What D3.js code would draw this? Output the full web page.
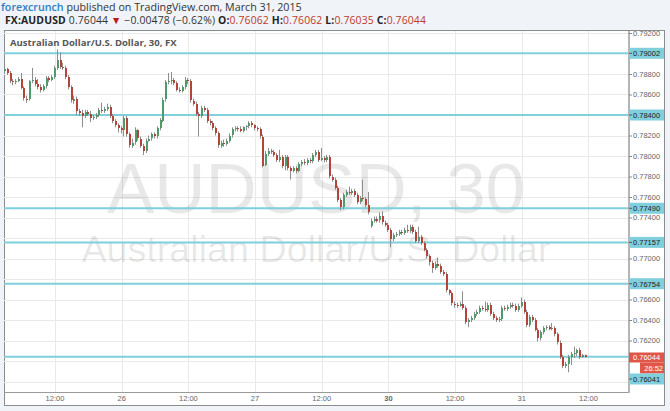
<!DOCTYPE html>
<html>
<head>
<meta charset="utf-8">
<script src="https://cdn.jsdelivr.net/npm/d3@7"></script>
<style>
  body { margin: 0; background: #f0f3f7; }
  svg { display: block; }
</style>
</head>
<body>
<svg id="chart" width="670" height="411"></svg>
<script>
// AUD/USD, 30 minute candles. Prices in pips (x 0.0001), rows are [open, high, low, close]
var bars25 = [
  [7883,7888,7881,7885],[7885,7886,7879,7881],[7881,7883,7871,7873],[7873,7875,7869,7872],
  [7872,7875,7870,7873],[7873,7877,7872,7875],[7875,7881,7865,7866],[7866,7868,7854,7856],
  [7856,7859,7852,7855],[7855,7874,7854,7873],[7873,7886,7871,7874],[7874,7877,7868,7870],
  [7870,7875,7865,7867],[7867,7870,7862,7864],[7864,7870,7863,7868],[7868,7878,7866,7876],
  [7876,7878,7872,7874],[7874,7879,7873,7877],[7877,7888,7875,7886],[7886,7904,7884,7894],
  [7894,7901,7885,7887],[7887,7891,7884,7886],[7886,7888,7875,7877],[7877,7879,7865,7867],
  [7867,7869,7852,7854],[7854,7859,7851,7856],[7856,7858,7840,7844],[7844,7846,7839,7842],
  [7842,7845,7828,7839],[7839,7845,7837,7843],[7843,7845,7839,7841],[7841,7844,7833,7837],
  [7837,7840,7835,7838],[7838,7842,7836,7840],[7840,7847,7838,7845],[7845,7852,7842,7844],
  [7844,7848,7842,7846],[7846,7851,7844,7848],[7848,7850,7837,7839],[7839,7841,7832,7834],
  [7834,7836,7828,7830],[7830,7832,7823,7827]
];
var bars26 = [
  [7827,7829,7822,7825],[7825,7839,7819,7837],[7837,7839,7819,7821],[7821,7823,7808,7810],
  [7810,7817,7808,7813],[7813,7828,7811,7825],[7825,7826,7815,7817],[7817,7819,7808,7810],
  [7810,7812,7801,7805],[7805,7817,7803,7815],[7815,7820,7814,7817],[7817,7823,7815,7821],
  [7821,7823,7817,7819],[7819,7829,7817,7827],[7827,7837,7825,7835],[7835,7857,7833,7855],
  [7855,7874,7853,7872],[7872,7881,7870,7873],[7873,7882,7870,7874],[7874,7876,7869,7871],
  [7871,7873,7863,7864],[7864,7867,7862,7863],[7863,7869,7862,7867],[7867,7877,7865,7874],
  [7874,7876,7870,7873],[7873,7875,7852,7854],[7854,7856,7849,7851],[7851,7853,7839,7841],
  [7841,7843,7819,7839],[7839,7849,7837,7847],[7847,7849,7843,7845],[7845,7847,7832,7834],
  [7834,7836,7830,7832],[7832,7834,7825,7827],[7827,7829,7820,7822],[7822,7824,7808,7810],
  [7810,7815,7808,7813],[7813,7816,7809,7812],[7812,7817,7810,7815],[7815,7822,7813,7820],
  [7820,7828,7818,7826],[7826,7829,7824,7827],[7827,7829,7824,7826],[7826,7829,7823,7824],
  [7824,7829,7823,7828],[7828,7830,7825,7829],[7829,7834,7827,7832],[7832,7834,7828,7830]
];
var bars27 = [
  [7830,7831,7825,7827],[7827,7829,7824,7826],[7826,7828,7817,7819],[7819,7821,7789,7791],
  [7791,7805,7790,7802],[7802,7808,7800,7805],[7805,7807,7802,7804],[7804,7806,7799,7801],
  [7801,7803,7794,7796],[7796,7806,7794,7799],[7799,7801,7788,7790],[7790,7801,7786,7799],
  [7799,7801,7786,7788],[7788,7790,7777,7785],[7785,7790,7784,7788],[7788,7790,7783,7785],
  [7785,7794,7784,7792],[7792,7796,7790,7794],[7794,7797,7791,7793],[7793,7798,7791,7796],
  [7796,7798,7793,7795],[7795,7803,7793,7801],[7801,7806,7799,7804],[7804,7806,7794,7796],
  [7796,7808,7795,7798],[7798,7800,7794,7796],[7796,7801,7794,7799],[7799,7801,7778,7780],
  [7780,7782,7775,7777],[7777,7779,7767,7769],[7769,7771,7755,7757],[7757,7759,7747,7750],
  [7750,7764,7748,7762],[7762,7767,7760,7765],[7765,7770,7762,7764],[7764,7768,7762,7766],
  [7766,7768,7760,7762],[7762,7764,7753,7755],[7755,7761,7753,7759],[7759,7777,7756,7758],
  [7758,7760,7750,7752],[7752,7765,7743,7745]
];
var bars29 = [
  [7732,7739,7730,7737],[7737,7741,7735,7739],[7739,7741,7735,7737],[7737,7745,7735,7741],
  [7741,7746,7733,7735],[7735,7737,7731,7733]
];
var bars30 = [
  [7733,7735,7726,7728],[7728,7730,7711,7719],[7719,7725,7717,7723],[7723,7726,7721,7724],
  [7724,7728,7722,7726],[7726,7728,7723,7725],[7725,7730,7723,7728],[7728,7733,7725,7727],
  [7727,7733,7725,7731],[7731,7733,7724,7726],[7726,7728,7715,7717],[7717,7731,7715,7721],
  [7721,7723,7713,7715],[7715,7717,7707,7708],[7708,7710,7700,7702],[7702,7704,7693,7696],
  [7696,7698,7686,7691],[7691,7697,7689,7695],[7695,7701,7691,7693],[7693,7695,7685,7687],
  [7687,7689,7683,7685],[7685,7687,7667,7669],[7669,7670,7664,7666],[7666,7668,7654,7656],
  [7656,7658,7652,7655],[7655,7657,7652,7654],[7654,7658,7653,7656],[7656,7668,7650,7652],
  [7652,7654,7636,7638],[7638,7642,7633,7640],[7640,7644,7638,7642],[7642,7648,7640,7646],
  [7646,7650,7644,7648],[7648,7654,7646,7652],[7652,7654,7649,7651],[7651,7658,7648,7650],
  [7650,7657,7648,7655],[7655,7657,7644,7646],[7646,7648,7640,7642],[7642,7644,7638,7640],
  [7640,7643,7638,7641],[7641,7654,7639,7652],[7652,7654,7649,7651],[7651,7655,7649,7653],
  [7653,7657,7651,7655],[7655,7657,7652,7654],[7654,7656,7648,7650],[7650,7656,7648,7654]
];
var bars31 = [
  [7654,7662,7652,7658],[7658,7660,7646,7648],[7648,7650,7633,7635],[7635,7645,7633,7643],
  [7643,7645,7638,7640],[7640,7642,7629,7630],[7630,7632,7619,7622],[7622,7630,7620,7628],
  [7628,7634,7626,7632],[7632,7635,7630,7633],[7633,7635,7630,7631],[7631,7637,7630,7632],
  [7632,7634,7624,7626],[7626,7628,7616,7618],[7618,7620,7602,7604],[7604,7606,7593,7595],
  [7595,7599,7593,7597],[7597,7606,7589,7604],[7604,7609,7596,7607],[7607,7614,7603,7608],
  [7608,7612,7605,7611],[7611,7613,7602,7604],[7604,7607,7603,7606],[7606.2,7606.2,7603.5,7604.4]
];
var dayBars = [bars25, bars26, bars27, bars29, bars30, bars31];
var dayStarts = ["2015-03-25T03:00:00Z", "2015-03-26T00:00:00Z", "2015-03-27T00:00:00Z",
                 "2015-03-29T21:00:00Z", "2015-03-30T00:00:00Z", "2015-03-31T00:00:00Z"];

var priceTicks = [0.792, 0.790, 0.788, 0.786, 0.784, 0.782, 0.780, 0.778, 0.776,
                  0.774, 0.772, 0.770, 0.768, 0.766, 0.764, 0.762, 0.760, 0.758];
var timeTicks = ["2015-03-25T12:00:00Z", "2015-03-26T00:00:00Z", "2015-03-26T12:00:00Z",
                 "2015-03-27T00:00:00Z", "2015-03-27T12:00:00Z", "2015-03-30T00:00:00Z",
                 "2015-03-30T12:00:00Z", "2015-03-31T00:00:00Z", "2015-03-31T12:00:00Z"];
var timeTickLabels = ["12:00", "26", "12:00", "27", "12:00", "30", "12:00", "31", "12:00"];
var levels = [0.79002, 0.78400, 0.77490, 0.77157, 0.76754, 0.76041];
var lastPrice = 0.76044;
var countdown = "26:52";

var HALF_HOUR = 1800000;
var candles = [];
dayBars.forEach(function (rows, d) {
    var t0 = new Date(dayStarts[d]).getTime();
    rows.forEach(function (r, k) {
        candles.push({i: candles.length, t: t0 + k * HALF_HOUR,
            o: r[0] / 1e4, h: r[1] / 1e4, l: r[2] / 1e4, c: r[3] / 1e4});
    });
});

// bars are evenly spaced, weekend gap is skipped like on the original
function timeToIndex(s) {
    var t = new Date(s).getTime();
    var hit = candles.find(function (c) { return c.t === t; });
    if (hit) return hit.i;
    var last = candles[candles.length - 1];
    return last.i + (t - last.t) / HALF_HOUR;
}

var L = 4, R = 628, T = 31, B = 392;
var x = d3.scaleLinear().domain([-0.36, 224.24]).range([L, R]);
var y = d3.scaleLinear().domain([0.756976, 0.792195]).range([B, T]);

var svg = d3.select("#chart");
var sans = "'Liberation Sans', Arial, sans-serif";
var ui = "'Open Sans', 'Liberation Sans', sans-serif";

svg.append("rect").attr("width", 670).attr("height", 411).attr("fill", "#f0f3f7");

// header
var h1 = svg.append("text").attr("x", 1).attr("y", 11)
    .style("font-family", ui).style("font-size", "10.7px");
h1.append("tspan").attr("fill", "#2e7fc3").style("font-weight", 600).text("forexcrunch");
h1.append("tspan").attr("fill", "#333").text(" published on TradingView.com, March 31, 2015");

var h2 = svg.append("text").attr("x", 5).attr("y", 24)
    .style("font-family", ui).style("font-size", "10.4px").style("letter-spacing", "0.15px")
    .attr("fill", "#333");
h2.append("tspan").style("font-weight", "bold").attr("fill", "#222").text("FX:AUDUSD");
h2.append("tspan").text(" " + d3.format(".5f")(lastPrice) + " ");
h2.append("tspan").attr("fill", "#c21818").text("\u25BC");
h2.append("tspan").text(" \u22120.00478 (\u22120.62%) ");
var ohlcLast = candles[candles.length - 1];
[["O:", ohlcLast.o], ["H:", ohlcLast.h], ["L:", ohlcLast.l], ["C:", ohlcLast.c]].forEach(function (p, k) {
    h2.append("tspan").style("font-weight", "bold").attr("fill", "#222").text((k ? " " : "") + p[0]);
    h2.append("tspan").attr("fill", "#c0392b").text(d3.format(".5f")(p[1]));
});

// frame
svg.append("rect").attr("x", 4.5).attr("y", 30.5).attr("width", 660).attr("height", 375)
    .attr("fill", "#fff").attr("stroke", "#8c8c8c");

svg.append("clipPath").attr("id", "plotClip")
    .append("rect").attr("x", L).attr("y", T).attr("width", R - L).attr("height", B - T);
svg.append("clipPath").attr("id", "axisClip")
    .append("rect").attr("x", R).attr("y", T).attr("width", 40).attr("height", 380);

var plot = svg.append("g").attr("clip-path", "url(#plotClip)");

// grid
plot.selectAll("line.hg").data(priceTicks).join("line").attr("class", "hg")
    .attr("x1", L).attr("x2", R)
    .attr("y1", function (d) { return Math.round(y(d)) + 0.5; })
    .attr("y2", function (d) { return Math.round(y(d)) + 0.5; })
    .attr("stroke", "#e9e9e9");
plot.selectAll("line.vg").data(timeTicks).join("line").attr("class", "vg")
    .attr("y1", T).attr("y2", B)
    .attr("x1", function (d) { return Math.round(x(timeToIndex(d))) + 0.5; })
    .attr("x2", function (d) { return Math.round(x(timeToIndex(d))) + 0.5; })
    .attr("stroke", "#e9e9e9");

// watermark
plot.append("text").attr("x", (L + R) / 2).attr("y", 213).attr("text-anchor", "middle")
    .style("font-family", sans).style("font-size", "71px").attr("fill", "rgba(0,0,0,0.09)")
    .text("AUDUSD, 30");
plot.append("text").attr("x", (L + R) / 2).attr("y", 262).attr("text-anchor", "middle")
    .style("font-family", sans).style("font-size", "37.7px").attr("fill", "rgba(0,0,0,0.09)")
    .text("Australian Dollar/U.S. Dollar");

// horizontal levels
plot.selectAll("line.lvl").data(levels).join("line").attr("class", "lvl")
    .attr("x1", L).attr("x2", R)
    .attr("y1", function (d) { return y(d); }).attr("y2", function (d) { return y(d); })
    .attr("stroke", "#7fcfdc").attr("stroke-width", 2);

// candles
var cx = function (d) { return Math.round(x(d.i)); };
plot.selectAll("line.wick").data(candles).join("line").attr("class", "wick")
    .attr("x1", function (d) { return cx(d) - 0.5; }).attr("x2", function (d) { return cx(d) - 0.5; })
    .attr("y1", function (d) { return y(d.h); }).attr("y2", function (d) { return y(d.l); })
    .attr("stroke", "#8d8d8d").attr("stroke-width", 1);
plot.selectAll("rect.body").data(candles).join("rect").attr("class", "body")
    .attr("x", function (d) { return cx(d) - 1; }).attr("width", 2)
    .attr("y", function (d) { return Math.round(y(Math.max(d.o, d.c))); })
    .attr("height", function (d) { return Math.max(1, Math.round(Math.abs(y(d.o) - y(d.c)))); })
    .attr("fill", function (d) { return d.c >= d.o ? "#4f9a6c" : "#b4443a"; });

// chart title
svg.append("text").attr("x", 10).attr("y", 46)
    .style("font-family", ui).style("font-size", "9.5px").style("font-weight", "bold")
    .attr("fill", "#555").text("Australian Dollar/U.S. Dollar, 30, FX");

// axes lines
svg.append("line").attr("x1", L).attr("x2", R + 1).attr("y1", B + 0.5).attr("y2", B + 0.5)
    .attr("stroke", "#9a9a9a");
svg.append("line").attr("x1", R + 1).attr("x2", R + 1).attr("y1", T).attr("y2", B + 1)
    .attr("stroke", "#b4b4b4").attr("stroke-width", 2);

// time axis
var tx = svg.append("g").attr("transform", "translate(0," + (B + 1) + ")");
tx.selectAll("text").data(timeTicks).join("text")
    .attr("x", function (d) { return x(timeToIndex(d)); }).attr("y", 8)
    .attr("text-anchor", "middle")
    .style("font-family", sans).style("font-size", "7.5px")
    .style("font-weight", function (d, k) { return timeTickLabels[k] === "30" ? "bold" : "normal"; })
    .attr("fill", "#666")
    .text(function (d, k) { return timeTickLabels[k]; });

// price labels, the live price keeps its place and the others are pushed down
var labels = levels.map(function (v) {
    return {v: v, top: y(v) - 5.5, h: 11, cur: false};
});
labels.push({v: lastPrice, top: y(lastPrice) - 4, h: 21, cur: true});
labels.sort(function (a, b) { return y(a.v) - y(b.v) || (b.cur - a.cur); });
var prevBottom = -Infinity;
labels.forEach(function (lb) {
    if (lb.top < prevBottom) lb.top = prevBottom;
    prevBottom = lb.top + lb.h;
});

function hiddenByLabel(v) {
    var yy = y(v);
    return labels.some(function (lb) { return yy > lb.top - 2 && yy < lb.top + lb.h + 2; });
}

// price axis
var py = svg.append("g").attr("clip-path", "url(#axisClip)");
var pAxis = d3.axisRight(y).tickValues(priceTicks).tickSize(3).tickPadding(1)
    .tickFormat(d3.format(".5f"));
py.append("g").attr("transform", "translate(" + (R + 1) + ",0)").call(pAxis)
    .call(function (g) {
        g.select(".domain").remove();
        g.selectAll(".tick line").attr("stroke", "#888");
        g.selectAll(".tick text").style("font-family", sans).style("font-size", "7.5px").attr("fill", "#666");
        g.selectAll(".tick").filter(function (d) { return hiddenByLabel(d); }).remove();
    });

var lg = svg.append("g");
labels.forEach(function (lb) {
    if (lb.cur) {
        lg.append("rect").attr("x", R + 1).attr("y", lb.top).attr("width", 35).attr("height", 10)
            .attr("fill", "#e0574a");
        lg.append("text").attr("x", R + 5).attr("y", lb.top + 8)
            .style("font-family", sans).style("font-size", "7.5px").attr("fill", "#fff")
            .text(d3.format(".5f")(lb.v));
        lg.append("rect").attr("x", R + 12).attr("y", lb.top + 10).attr("width", 24).attr("height", 11)
            .attr("fill", "#e0574a");
        lg.append("text").attr("x", R + 35).attr("y", lb.top + 18.5).attr("text-anchor", "end")
            .style("font-family", sans).style("font-size", "7.5px").attr("fill", "#fff")
            .text(countdown);
    } else {
        lg.append("rect").attr("x", R + 1).attr("y", lb.top).attr("width", 35).attr("height", lb.h)
            .attr("fill", "#7fcfdc");
        lg.append("line").attr("x1", R + 1).attr("x2", R + 4)
            .attr("y1", lb.top + 5.5).attr("y2", lb.top + 5.5).attr("stroke", "#555");
        lg.append("text").attr("x", R + 5).attr("y", lb.top + 8.5)
            .style("font-family", sans).style("font-size", "7.5px").attr("fill", "#222")
            .text(d3.format(".5f")(lb.v));
    }
});
</script>
</body>
</html>
